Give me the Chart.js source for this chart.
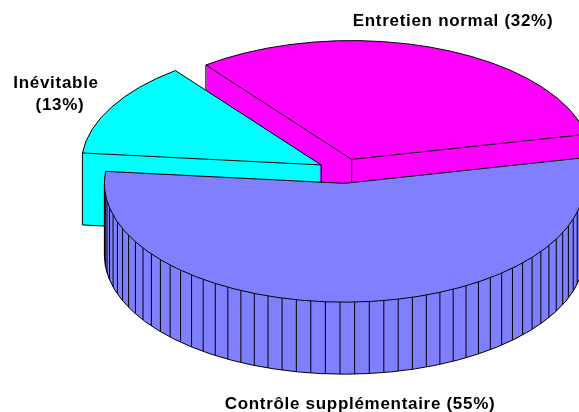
<!DOCTYPE html>
<html>
<head>
<meta charset="utf-8">
<title>Entretien</title>
<script src="https://cdn.jsdelivr.net/npm/chart.js@4/dist/chart.umd.js"></script>
<style>
    html, body { margin: 0; padding: 0; background: #fff; overflow: hidden; }
    #wrap { position: relative; width: 579px; height: 412px; }
    #wrap canvas { display: block; }
</style>
</head>
<body>
<div id="wrap"><canvas id="pie"></canvas></div>
<script>
const categories = ['Entretien normal', 'Contrôle supplémentaire', 'Inévitable'];
const shares = [32, 55, 13];
const sliceColors = ['#ff00ff', '#8080ff', '#00ffff'];

// ── Fake 3D look: the library lays out the arcs, this squashes and extrudes them ──
const SQUASH = 0.495;
const DEPTH = 72;
const EXPLODE = 25;
const STRIPE_STEP = 3.5 * Math.PI / 180;   // wall stripes, only on the big slice
const PAINT_ORDER = [0, 2, 1];             // back to front

// Label anchors (centre x, baseline y); wrapped labels put the percent on a second row
const LABEL_FONT = 'bold 17px "Liberation Sans", Arial, sans-serif';
const LABEL_SPOTS = [
    { x: 453, y: 26 },
    { x: 360, y: 409 },
    { x: 56, y: 88, pctX: 60, pctY: 110 }
];

const pie3d = {
    id: 'pie3d',
    beforeDatasetDraw(chart, args) {
        const ctx = chart.ctx;
        const arcs = chart.getDatasetMeta(args.index).data;
        PAINT_ORDER.forEach((i) => drawSlice(ctx, arcs[i]));
        return false;   // default flat drawing is replaced
    },
    afterDraw(chart) {
        const ctx = chart.ctx;
        ctx.save();
        ctx.font = LABEL_FONT;
        ctx.letterSpacing = '0.7px';
        ctx.fillStyle = '#000';
        ctx.textAlign = 'center';
        categories.forEach((name, i) => {
            const spot = LABEL_SPOTS[i];
            const pct = `(${shares[i]}%)`;
            if (spot.pctY) {
                ctx.fillText(name, spot.x, spot.y);
                ctx.fillText(pct, spot.pctX, spot.pctY);
            } else {
                ctx.fillText(`${name} ${pct}`, spot.x, spot.y);
            }
        });
        ctx.restore();
    }
};

function drawSlice(ctx, arc) {
    const { x, y, startAngle: a0, endAngle: a1, outerRadius: r } = arc;
    const mid = (a0 + a1) / 2;
    const ax = x + Math.cos(mid) * EXPLODE;
    const ay = y + Math.sin(mid) * EXPLODE * SQUASH;

    const layer = (dy, fn) => {
        ctx.save();
        ctx.translate(ax, ay + dy);
        ctx.scale(1, SQUASH);
        ctx.translate(-x, -y);
        fn();
        ctx.restore();
    };
    const px = (t) => ax + Math.cos(t) * r;
    const py = (t) => ay + Math.sin(t) * r * SQUASH;
    const line = (x0, y0, x1, y1) => {
        ctx.beginPath();
        ctx.moveTo(x0, y0);
        ctx.lineTo(x1, y1);
        ctx.stroke();
    };

    // solid body, one pixel at a time
    for (let dy = DEPTH; dy > 0; dy--) layer(dy, () => arc.draw(ctx));

    ctx.save();
    ctx.strokeStyle = '#000';
    ctx.lineWidth = 1;

    // outer wall: bottom rim only where it faces the viewer
    const from = Math.max(a0, 0);
    const to = Math.min(a1, Math.PI);
    if (to > from) {
        ctx.beginPath();
        ctx.ellipse(ax, ay + DEPTH, r, r * SQUASH, 0, from, to);
        ctx.stroke();
        if (to === Math.PI) line(px(to), py(to), px(to), py(to) + DEPTH);
        if (a1 - a0 > Math.PI) {
            for (let t = a0 + STRIPE_STEP / 2; t < a1; t += STRIPE_STEP) {
                if (t > 0 && t < Math.PI) line(px(t), py(t), px(t), py(t) + DEPTH);
            }
        }
    }

    // radial cut faces that look towards the viewer
    const startFront = Math.sin(a0 - Math.PI / 2) > 0;
    const endFront = Math.sin(a1 + Math.PI / 2) > 0;
    [[a0, startFront], [a1, endFront]].forEach(([t, front]) => {
        if (!front) return;
        line(px(t), py(t), px(t), py(t) + DEPTH);
        line(ax, ay + DEPTH, px(t), py(t) + DEPTH);
    });
    if (startFront || endFront) line(ax, ay, ax, ay + DEPTH);

    // top face
    layer(0, () => arc.draw(ctx));
    ctx.beginPath();
    ctx.moveTo(ax, ay);
    ctx.ellipse(ax, ay, r, r * SQUASH, 0, a0, a1);
    ctx.closePath();
    ctx.stroke();
    ctx.restore();
}

new Chart(document.getElementById('pie'), {
    type: 'pie',
    data: {
        labels: categories,
        datasets: [{
            data: shares,
            backgroundColor: sliceColors,
            borderWidth: 0
        }]
    },
    options: {
        responsive: true,
        maintainAspectRatio: false,
        animation: false,
        events: [],
        radius: 240,
        rotation: -37.4,
        layout: { padding: { left: 107, right: 0, top: 0, bottom: 70 } },
        plugins: { legend: { display: false }, tooltip: { enabled: false } }
    },
    plugins: [pie3d]
});
</script>
</body>
</html>
